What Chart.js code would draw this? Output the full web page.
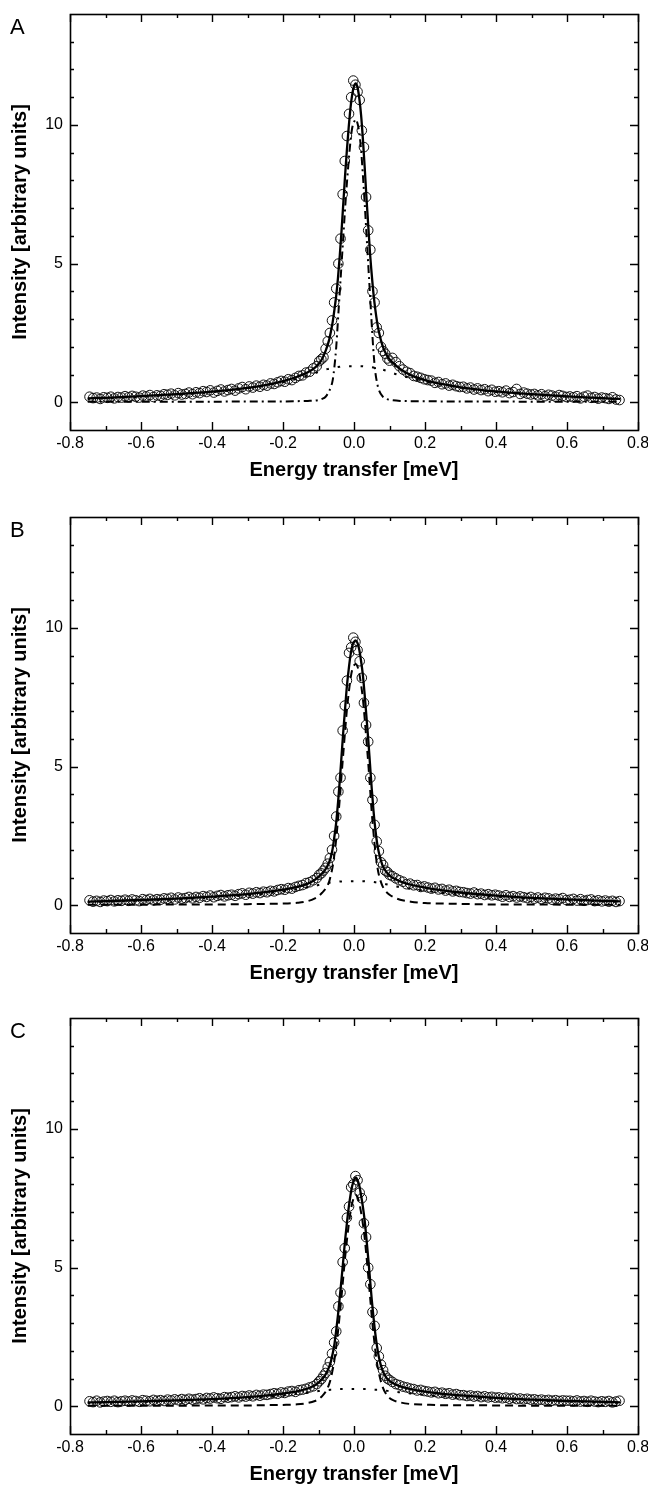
<!DOCTYPE html>
<html>
<head>
<meta charset="utf-8">
<script src="https://cdn.jsdelivr.net/npm/chart.js@4.4.1/dist/chart.umd.min.js"></script>
<style>
  html, body { margin: 0; padding: 0; background: #fff; overflow: hidden; }
  .panel { position: absolute; left: 0; width: 648px; height: 500px; }
</style>
</head>
<body>
<canvas id="panelA" class="panel" width="648" height="500" style="top:0px"></canvas>
<canvas id="panelB" class="panel" width="648" height="500" style="top:503px"></canvas>
<canvas id="panelC" class="panel" width="648" height="500" style="top:1004px"></canvas>
<script>
// Tick positions
const xMajorTicks = [-0.8, -0.6, -0.4, -0.2, 0, 0.2, 0.4, 0.6, 0.8];
const xMinorTicks = [-0.7, -0.5, -0.3, -0.1, 0.1, 0.3, 0.5, 0.7];
const yMajorTicks = [0, 5, 10];
const yMinorTicks = [1, 2, 3, 4, 6, 7, 8, 9, 11, 12, 13];

// energy grid of the fit curves (meV)
const fitEnergy = [-0.75, -0.7, -0.6, -0.5, -0.4, -0.3, -0.25, -0.2, -0.16, -0.13,
  -0.11, -0.1, -0.09, -0.08, -0.07, -0.065, -0.06, -0.055, -0.05, -0.045,
  -0.04, -0.035, -0.03, -0.025, -0.02, -0.015, -0.01, -0.005, 0, 0.005,
  0.01, 0.015, 0.02, 0.025, 0.03, 0.035, 0.04, 0.045, 0.05, 0.055,
  0.06, 0.065, 0.07, 0.08, 0.09, 0.1, 0.11, 0.13, 0.16, 0.2,
  0.25, 0.3, 0.4, 0.5, 0.6, 0.7, 0.75];

// Panel A fits
const totalA = [0.14, 0.16, 0.22, 0.29, 0.38, 0.52, 0.62, 0.76, 0.92, 1.08,
  1.25, 1.38, 1.56, 1.85, 2.25, 2.55, 2.9, 3.35, 3.85, 4.5,
  5.3, 6.2, 7.2, 8.2, 9.1, 9.9, 10.6, 11.1, 11.4, 11.5,
  11.35, 10.95, 10.35, 9.5, 8.5, 7.4, 6.4, 5.4, 4.6, 3.9,
  3.35, 2.9, 2.55, 2.05, 1.75, 1.55, 1.42, 1.2, 0.98, 0.8,
  0.65, 0.54, 0.39, 0.29, 0.21, 0.15, 0.12];
const narrowA = [0.02, 0.02, 0.02, 0.02, 0.02, 0.03, 0.03, 0.03, 0.04, 0.05,
  0.06, 0.08, 0.12, 0.2, 0.4, 0.55, 0.8, 1.3, 2.0, 3.0,
  4.0, 5.0, 6.0, 7.0, 7.9, 8.7, 9.4, 9.9, 10.1, 10.2,
  10.05, 9.7, 9.1, 8.2, 7.2, 6.1, 5.0, 3.9, 2.8, 1.8,
  1.1, 0.7, 0.45, 0.22, 0.13, 0.09, 0.07, 0.05, 0.04, 0.04,
  0.03, 0.03, 0.03, 0.02, 0.02, 0.02, 0.02];
const broadA = [0.12, 0.14, 0.2, 0.27, 0.36, 0.5, 0.6, 0.72, 0.85, 0.97,
  1.05, 1.1, 1.14, 1.18, 1.21, 1.23, 1.24, 1.25, 1.26, 1.27,
  1.28, 1.29, 1.29, 1.3, 1.3, 1.3, 1.3, 1.3, 1.3, 1.3,
  1.3, 1.3, 1.3, 1.3, 1.29, 1.29, 1.28, 1.27, 1.26, 1.25,
  1.24, 1.23, 1.21, 1.18, 1.14, 1.1, 1.05, 0.97, 0.87, 0.74,
  0.62, 0.52, 0.37, 0.27, 0.2, 0.14, 0.11];

// Panel B fits
const totalB = [0.13, 0.15, 0.19, 0.24, 0.31, 0.4, 0.47, 0.56, 0.66, 0.78,
  0.92, 1.02, 1.15, 1.3, 1.55, 1.75, 2.05, 2.5, 3.0, 3.7,
  4.5, 5.4, 6.3, 7.1, 7.9, 8.5, 9.0, 9.35, 9.5, 9.55,
  9.45, 9.2, 8.8, 8.3, 7.6, 6.8, 6.0, 5.1, 4.2, 3.4,
  2.75, 2.25, 1.9, 1.45, 1.22, 1.08, 0.98, 0.86, 0.74, 0.64,
  0.54, 0.46, 0.35, 0.27, 0.21, 0.16, 0.14];
const narrowB = [0.02, 0.02, 0.02, 0.03, 0.03, 0.04, 0.05, 0.06, 0.09, 0.15,
  0.25, 0.33, 0.45, 0.6, 0.85, 1.1, 1.4, 1.85, 2.4, 3.1,
  3.85, 4.7, 5.5, 6.3, 7.05, 7.65, 8.15, 8.5, 8.65, 8.7,
  8.6, 8.35, 7.95, 7.45, 6.75, 5.95, 5.15, 4.25, 3.35, 2.6,
  1.95, 1.45, 1.1, 0.7, 0.5, 0.38, 0.3, 0.2, 0.13, 0.08,
  0.06, 0.05, 0.03, 0.03, 0.02, 0.02, 0.02];
const broadB = [0.11, 0.13, 0.17, 0.21, 0.28, 0.36, 0.42, 0.5, 0.58, 0.65,
  0.7, 0.73, 0.76, 0.79, 0.81, 0.82, 0.83, 0.84, 0.85, 0.85,
  0.86, 0.86, 0.87, 0.87, 0.87, 0.87, 0.87, 0.87, 0.87, 0.87,
  0.87, 0.87, 0.87, 0.87, 0.87, 0.86, 0.86, 0.85, 0.85, 0.84,
  0.83, 0.82, 0.81, 0.79, 0.76, 0.73, 0.7, 0.65, 0.59, 0.52,
  0.45, 0.39, 0.3, 0.23, 0.18, 0.14, 0.12];

// Panel C fits
const totalC = [0.14, 0.15, 0.18, 0.21, 0.26, 0.33, 0.38, 0.46, 0.54, 0.64,
  0.76, 0.85, 0.98, 1.15, 1.42, 1.62, 1.9, 2.25, 2.75, 3.3,
  3.95, 4.6, 5.3, 6.0, 6.6, 7.15, 7.6, 7.95, 8.15, 8.25,
  8.15, 7.95, 7.6, 7.2, 6.7, 6.05, 5.35, 4.6, 3.85, 3.2,
  2.62, 2.15, 1.78, 1.3, 1.05, 0.92, 0.83, 0.72, 0.62, 0.53,
  0.45, 0.39, 0.3, 0.24, 0.19, 0.16, 0.14];
const narrowC = [0.02, 0.02, 0.02, 0.02, 0.03, 0.03, 0.04, 0.05, 0.07, 0.12,
  0.19, 0.25, 0.36, 0.52, 0.8, 1.02, 1.32, 1.68, 2.15, 2.7,
  3.33, 3.98, 4.68, 5.38, 5.98, 6.53, 6.98, 7.33, 7.53, 7.63,
  7.53, 7.33, 6.98, 6.58, 6.08, 5.43, 4.73, 3.99, 3.24, 2.6,
  2.02, 1.55, 1.2, 0.72, 0.45, 0.3, 0.22, 0.14, 0.08, 0.06,
  0.04, 0.04, 0.03, 0.02, 0.02, 0.02, 0.02];
const broadC = [0.12, 0.13, 0.16, 0.19, 0.23, 0.29, 0.33, 0.39, 0.45, 0.5,
  0.53, 0.55, 0.56, 0.58, 0.59, 0.6, 0.6, 0.61, 0.61, 0.61,
  0.62, 0.62, 0.62, 0.62, 0.62, 0.62, 0.62, 0.62, 0.62, 0.62,
  0.62, 0.62, 0.62, 0.62, 0.62, 0.62, 0.62, 0.61, 0.61, 0.61,
  0.6, 0.6, 0.59, 0.58, 0.56, 0.55, 0.53, 0.5, 0.46, 0.41,
  0.36, 0.32, 0.26, 0.21, 0.17, 0.14, 0.12];

// energies of the measured points (meV)
const pointEnergy = [-0.745, -0.735, -0.725, -0.715, -0.705, -0.695, -0.685, -0.675, -0.665, -0.655,
  -0.645, -0.635, -0.625, -0.615, -0.605, -0.595, -0.585, -0.575, -0.565, -0.555,
  -0.545, -0.535, -0.525, -0.515, -0.505, -0.495, -0.485, -0.475, -0.465, -0.455,
  -0.445, -0.435, -0.425, -0.415, -0.405, -0.395, -0.385, -0.375, -0.365, -0.355,
  -0.345, -0.335, -0.325, -0.315, -0.305, -0.295, -0.285, -0.275, -0.265, -0.255,
  -0.245, -0.235, -0.225, -0.215, -0.205, -0.195, -0.185, -0.175, -0.165, -0.155,
  -0.145, -0.135, -0.125, -0.115, -0.105,
  -0.098, -0.092, -0.086, -0.08, -0.074, -0.068, -0.062, -0.056, -0.05, -0.044,
  -0.038, -0.032, -0.026, -0.02, -0.014, -0.008, -0.002, 0.004, 0.01, 0.016,
  0.022, 0.028, 0.034, 0.04, 0.046, 0.052, 0.058, 0.064, 0.07, 0.076,
  0.082, 0.088, 0.094, 0.1,
  0.108, 0.118, 0.128, 0.138, 0.148, 0.158, 0.168, 0.178, 0.188, 0.198,
  0.208, 0.218, 0.228, 0.238, 0.248, 0.258, 0.268, 0.278, 0.288, 0.298,
  0.308, 0.318, 0.328, 0.338, 0.348, 0.358, 0.368, 0.378, 0.388, 0.398,
  0.408, 0.418, 0.428, 0.438, 0.448, 0.458, 0.468, 0.478, 0.488, 0.498,
  0.508, 0.518, 0.528, 0.538, 0.548, 0.558, 0.568, 0.578, 0.588, 0.598,
  0.608, 0.618, 0.628, 0.638, 0.648, 0.658, 0.668, 0.678, 0.688, 0.698,
  0.708, 0.718, 0.728, 0.738, 0.748];

const pointsA = [0.2, 0.15, 0.17, 0.12, 0.18, 0.16, 0.2, 0.14, 0.19, 0.17,
  0.22, 0.18, 0.23, 0.2, 0.17, 0.24, 0.21, 0.26, 0.19, 0.25,
  0.23, 0.29, 0.27, 0.31, 0.25, 0.33, 0.28, 0.3, 0.35, 0.29,
  0.36, 0.33, 0.4, 0.37, 0.43, 0.35, 0.41, 0.46, 0.39, 0.44,
  0.48, 0.42, 0.5, 0.55, 0.47, 0.57, 0.53, 0.6, 0.56, 0.63,
  0.6, 0.68, 0.66, 0.72, 0.77, 0.74, 0.83, 0.8, 0.88, 0.95,
  0.97, 1.07, 1.1, 1.22, 1.3,
  1.48, 1.55, 1.62, 1.93, 2.2, 2.5, 2.95, 3.6, 4.1, 5.0,
  5.9, 7.5, 8.7, 9.6, 10.4, 11.0, 11.6, 11.45, 11.2, 10.9,
  9.8, 9.2, 7.4, 6.2, 5.5, 4.0, 3.6, 2.7, 2.5, 2.0,
  1.85, 1.75, 1.58, 1.5,
  1.6, 1.45, 1.3, 1.18, 1.1, 1.05, 0.95, 0.92, 0.88, 0.83,
  0.8, 0.78, 0.7, 0.73, 0.65, 0.68, 0.6, 0.63, 0.58, 0.55,
  0.56, 0.5, 0.53, 0.46, 0.5, 0.44, 0.47, 0.4, 0.45, 0.38,
  0.4, 0.36, 0.42, 0.33, 0.37, 0.48, 0.3, 0.35, 0.31, 0.28,
  0.3, 0.25, 0.29, 0.22, 0.27, 0.24, 0.2, 0.26, 0.23, 0.19,
  0.21, 0.18, 0.22, 0.14, 0.2, 0.24, 0.16, 0.19, 0.13, 0.17,
  0.15, 0.12, 0.18, 0.1, 0.08];

const pointsB = [0.18, 0.13, 0.16, 0.12, 0.17, 0.15, 0.19, 0.14, 0.18, 0.16,
  0.2, 0.16, 0.21, 0.18, 0.15, 0.22, 0.19, 0.23, 0.18, 0.22,
  0.2, 0.25, 0.23, 0.27, 0.21, 0.28, 0.24, 0.26, 0.3, 0.25,
  0.3, 0.27, 0.33, 0.3, 0.35, 0.29, 0.34, 0.37, 0.32, 0.36,
  0.38, 0.34, 0.4, 0.43, 0.38, 0.45, 0.42, 0.47, 0.44, 0.49,
  0.47, 0.52, 0.5, 0.55, 0.58, 0.56, 0.62, 0.6, 0.66, 0.7,
  0.73, 0.8, 0.83, 0.9, 0.98,
  1.1, 1.15, 1.25, 1.35, 1.5, 1.7, 2.0, 2.5, 3.2, 4.1,
  4.6, 6.3, 7.2, 8.1, 9.1, 9.3, 9.65, 9.5, 9.2, 8.8,
  8.2, 7.3, 6.5, 5.9, 4.6, 3.8, 2.9, 2.3, 1.95, 1.55,
  1.45, 1.25, 1.2, 1.1,
  1.05, 0.97, 0.9, 0.85, 0.76, 0.78, 0.72, 0.73, 0.66, 0.68,
  0.64, 0.6, 0.63, 0.57, 0.59, 0.53, 0.56, 0.5, 0.52, 0.48,
  0.47, 0.44, 0.42, 0.46, 0.4, 0.42, 0.37, 0.4, 0.36, 0.38,
  0.35, 0.31, 0.36, 0.3, 0.33, 0.28, 0.32, 0.29, 0.26, 0.3,
  0.24, 0.28, 0.22, 0.27, 0.25, 0.2, 0.24, 0.22, 0.26, 0.19,
  0.2, 0.23, 0.17, 0.22, 0.16, 0.19, 0.21, 0.15, 0.18, 0.14,
  0.17, 0.13, 0.16, 0.12, 0.15];

const pointsC = [0.18, 0.15, 0.2, 0.14, 0.17, 0.19, 0.16, 0.2, 0.15, 0.18,
  0.2, 0.17, 0.21, 0.19, 0.16, 0.22, 0.2, 0.18, 0.23, 0.2,
  0.22, 0.19, 0.24, 0.21, 0.25, 0.22, 0.26, 0.23, 0.27, 0.24,
  0.26, 0.29, 0.25, 0.3, 0.28, 0.32, 0.29, 0.27, 0.33, 0.31,
  0.33, 0.36, 0.32, 0.37, 0.35, 0.39, 0.36, 0.41, 0.38, 0.42,
  0.41, 0.44, 0.47, 0.45, 0.5, 0.48, 0.53, 0.55, 0.52, 0.58,
  0.6, 0.63, 0.68, 0.72, 0.8,
  0.9, 0.98, 1.1, 1.2, 1.4, 1.6, 1.9, 2.3, 2.7, 3.6,
  4.1, 5.2, 5.7, 6.8, 7.2, 7.9, 8.0, 8.3, 8.15, 7.7,
  7.5, 6.6, 6.1, 5.0, 4.4, 3.4, 2.9, 2.1, 1.8, 1.5,
  1.3, 1.1, 1.0, 0.95,
  0.88, 0.8, 0.76, 0.71, 0.68, 0.64, 0.62, 0.57, 0.59, 0.55,
  0.53, 0.5, 0.52, 0.47, 0.49, 0.45, 0.47, 0.42, 0.44, 0.4,
  0.4, 0.37, 0.39, 0.35, 0.37, 0.33, 0.36, 0.32, 0.34, 0.31,
  0.32, 0.29, 0.31, 0.27, 0.3, 0.26, 0.28, 0.25, 0.27, 0.24,
  0.25, 0.22, 0.24, 0.21, 0.23, 0.2, 0.22, 0.19, 0.21, 0.2,
  0.2, 0.18, 0.21, 0.17, 0.19, 0.16, 0.2, 0.17, 0.15, 0.18,
  0.16, 0.19, 0.14, 0.17, 0.2];

const fontFamily = '"Liberation Sans", Arial, Helvetica, sans-serif';

// pair x and y arrays into points
function toXY(xs, ys) {
  return xs.map((x, i) => ({ x: x, y: ys[i] }));
}

// frame, inward ticks and panel letter
const frameTicks = {
  id: 'frameTicks',
  afterDraw(chart, args, opts) {
    const { ctx, chartArea: a, scales: { x, y } } = chart;
    const snap = v => Math.round(v) + 0.5;
    ctx.save();
    ctx.strokeStyle = '#000';
    ctx.lineWidth = 1.4;
    ctx.beginPath();
    for (const v of xMajorTicks) {
      const px = snap(x.getPixelForValue(v));
      ctx.moveTo(px, a.bottom); ctx.lineTo(px, a.bottom - 8);
      ctx.moveTo(px, a.top); ctx.lineTo(px, a.top + 8);
    }
    for (const v of xMinorTicks) {
      const px = snap(x.getPixelForValue(v));
      ctx.moveTo(px, a.bottom); ctx.lineTo(px, a.bottom - 4);
      ctx.moveTo(px, a.top); ctx.lineTo(px, a.top + 4);
    }
    for (const v of yMajorTicks) {
      const py = snap(y.getPixelForValue(v));
      ctx.moveTo(a.left, py); ctx.lineTo(a.left + 8, py);
      ctx.moveTo(a.right, py); ctx.lineTo(a.right - 8, py);
    }
    for (const v of yMinorTicks) {
      const py = snap(y.getPixelForValue(v));
      ctx.moveTo(a.left, py); ctx.lineTo(a.left + 4, py);
      ctx.moveTo(a.right, py); ctx.lineTo(a.right - 4, py);
    }
    ctx.stroke();
    ctx.lineWidth = 1.6;
    ctx.strokeRect(snap(a.left), snap(a.top), Math.round(a.right - a.left), Math.round(a.bottom - a.top));

    ctx.fillStyle = '#000';
    ctx.font = '22px ' + fontFamily;
    ctx.textAlign = 'left';
    ctx.textBaseline = 'alphabetic';
    ctx.fillText(opts.letter, 10, 34);
    ctx.restore();
  }
};

function makePanel(canvasId, letter, points, total, narrow, broad, narrowDash) {
  const lineStyle = {
    showLine: true,
    pointRadius: 0,
    borderColor: '#000',
    borderWidth: 2,
    fill: false,
    cubicInterpolationMode: 'monotone'
  };
  return new Chart(document.getElementById(canvasId), {
    type: 'scatter',
    data: {
      datasets: [
        Object.assign({ label: 'fit', data: toXY(fitEnergy, total) }, lineStyle, { borderWidth: 2.3 }),
        Object.assign({ label: 'narrow', data: toXY(fitEnergy, narrow), borderDash: narrowDash }, lineStyle),
        Object.assign({ label: 'broad', data: toXY(fitEnergy, broad), borderDash: [2.5, 9] }, lineStyle),
        {
          label: 'data',
          data: toXY(pointEnergy, points),
          showLine: false,
          pointStyle: 'circle',
          pointRadius: 4.8,
          pointBorderWidth: 1,
          pointBorderColor: '#111',
          pointBackgroundColor: 'rgba(0,0,0,0)'
        }
      ]
    },
    options: {
      responsive: false,
      animation: false,
      devicePixelRatio: 1,
      events: [],
      layout: { padding: { left: 0, right: 10, top: 14, bottom: 0 } },
      plugins: {
        legend: { display: false },
        tooltip: { enabled: false },
        frameTicks: { letter: letter }
      },
      scales: {
        x: {
          type: 'linear',
          min: -0.8,
          max: 0.8,
          grid: { display: false, drawTicks: false },
          border: { display: false },
          afterBuildTicks: s => { s.ticks = xMajorTicks.map(v => ({ value: v })); },
          afterFit: s => { s.height = 70; s.paddingLeft = 0; s.paddingRight = 0; },
          ticks: {
            autoSkip: false,
            maxRotation: 0,
            padding: 4,
            color: '#000',
            font: { family: fontFamily, size: 16 },
            callback: v => v.toFixed(1)
          },
          title: {
            display: true,
            text: 'Energy transfer [meV]',
            color: '#000',
            font: { family: fontFamily, size: 20, weight: 'bold' },
            padding: { top: 0, bottom: 18 }
          }
        },
        y: {
          type: 'linear',
          min: -1,
          max: 14,
          grid: { display: false, drawTicks: false },
          border: { display: false },
          afterBuildTicks: s => { s.ticks = yMajorTicks.map(v => ({ value: v })); },
          afterFit: s => { s.width = 70; s.paddingTop = 0; s.paddingBottom = 0; },
          ticks: {
            padding: 7,
            color: '#000',
            font: { family: fontFamily, size: 16 },
            callback: v => String(v)
          },
          title: {
            display: true,
            text: 'Intensity [arbitrary units]',
            color: '#000',
            font: { family: fontFamily, size: 20, weight: 'bold' },
            padding: { top: 8, bottom: 0 }
          }
        }
      }
    },
    plugins: [frameTicks]
  });
}

makePanel('panelA', 'A', pointsA, totalA, narrowA, broadA, [8, 4, 2, 4]);
makePanel('panelB', 'B', pointsB, totalB, narrowB, broadB, [8, 5]);
makePanel('panelC', 'C', pointsC, totalC, narrowC, broadC, [8, 5]);
</script>
</body>
</html>
